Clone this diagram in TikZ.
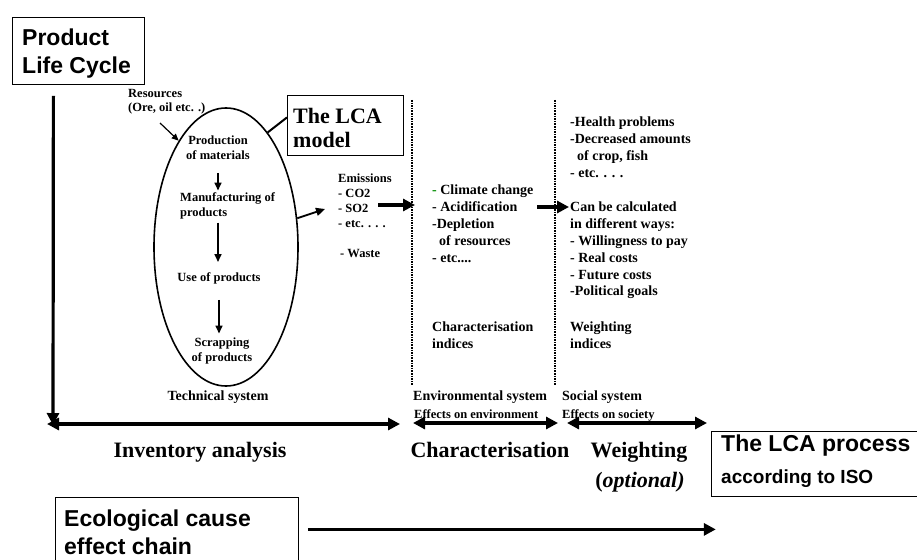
\documentclass[tikz,border=0pt]{standalone}
\usepackage{fontspec}
\setmainfont{Liberation Serif}
\newfontfamily\arialfont{Liberation Sans}
\usepackage{xcolor}
\usetikzlibrary{arrows.meta, shapes.geometric, positioning}

\begin{document}
\begin{tikzpicture}[x=1pt, y=-1pt,
    every node/.style={inner sep=0pt, font=\bfseries},
    framebox/.style={draw, line width=0.8pt, anchor=north west},
    arialbig/.style={font=\arialfont\bfseries\fontsize{23}{28}\selectfont, align=left, anchor=north west},
    small/.style={font=\bfseries\fontsize{12.5}{15.2}\selectfont, align=left},
    mid/.style={font=\bfseries\fontsize{14}{16.8}\selectfont, align=left},
    big/.style={font=\bfseries\fontsize{22}{28}\selectfont, anchor=base},
    thickarrow/.style={line width=3.2pt, -{Triangle[length=12pt, width=12pt]}},
    bothways/.style={line width=3.2pt, {Triangle[length=12pt, width=12pt]}-{Triangle[length=12pt, width=12pt]}},
    thinarrow/.style={line width=1.6pt, -{Triangle[length=8pt, width=7pt]}},
    dotline/.style={line width=2pt, dash pattern=on 1.6pt off 1pt}]

    \useasboundingbox (0,0) rectangle (917,559);

    % Titles
    \node[framebox, minimum width=132pt, minimum height=67pt] (plc) at (12,17) {};
    \node[arialbig] (plc-txt) at ([xshift=10pt, yshift=-12pt]plc.north west) {Product\\Life Cycle};
    \node[framebox, minimum width=116pt, minimum height=60pt] (model) at (287,95) {};
    \node[font=\bfseries\fontsize{22}{24.5}\selectfont, align=left, anchor=north west] (model-txt)
        at ([xshift=6pt, yshift=-13pt]model.north west) {The LCA\\model};
    \node[framebox, minimum width=214pt, minimum height=65pt] (iso) at (711,431) {};
    \node[arialbig] (iso-t1) at ([xshift=10pt, yshift=-4pt]iso.north west) {The LCA process};
    \node[font=\arialfont\bfseries\fontsize{19}{23}\selectfont, anchor=north west] (iso-t2)
        [below right=13pt and 0pt of iso-t1.south west] {according to ISO};
    \node[framebox, minimum width=243pt, minimum height=64pt] (eco) at (55,497) {};
    \node[arialbig] (eco-txt) at ([xshift=9pt, yshift=-13pt]eco.north west) {Ecological cause\\effect chain};

    % Technical system
    \node[draw, ellipse, line width=1.6pt, minimum width=144pt, minimum height=278pt] (ell) at (226,247) {};
    \node[small, anchor=north west, font=\bfseries\fontsize{12.5}{14}\selectfont] (res) at (128,89) {Resources\\(Ore, oil etc. .)};
    \node[small, align=center, anchor=north] (prod) at (218,135.5) {Production\\of materials};
    \node[small, anchor=north west] (manu) at (180,192.5) {Manufacturing of\\products};
    \node[small, anchor=north] (use) at (219,272) {Use of products};
    \node[small, align=center, anchor=north] (scrap) at (222,337.5) {Scrapping\\of products};
    \node[mid, anchor=north] (tech) at (218,391) {Technical system};

    \draw[thinarrow, shorten <=13pt, shorten >=2pt] (prod.south) -- (prod.south |- manu.north);
    \draw[thinarrow, shorten <=3pt, shorten >=10pt] (prod.south |- manu.south) -- (prod.south |- use.north);
    \draw[thinarrow, shorten <=16pt, shorten >=4pt] (use.south) -- (use.south |- scrap.north);
    \coordinate (res-out) at (160,123);
    \draw[line width=1.2pt, -{Triangle[length=7pt, width=6pt]}] (res-out) -- (ell.114);
    \draw[line width=2pt] ([yshift=8pt]model.west) -- (ell.70);

    % Emissions
    \node[small, anchor=north west, font=\bfseries\fontsize{12.5}{15}\selectfont] (emis) at (338,173.5)
        {Emissions\\- CO2\\- SO2\\- etc. . . .\\[15pt]\hspace*{2pt}- Waste};
    \coordinate (emis-in) at (325,209);
    \draw[line width=1.8pt, -{Triangle[length=9pt, width=8pt]}] (ell.22) -- (emis-in);

    % Environmental system
    \draw[dotline] (412,100) -- (412,385);
    \draw[dotline] (555,100) -- (555,385);
    \node[mid, anchor=north west] (cha) at (432,185)
        {\textcolor{green!55!black}{-} Climate change\\- Acidification\\-Depletion\\\hspace*{7pt}of resources\\- etc....};
    \node[mid, anchor=north west] (cha-idx) at (432,322) {Characterisation\\indices};
    \node[mid, anchor=north west] (envsys) at (413,391) {Environmental system};
    \node[small, anchor=north west] (envfx) [below right=5pt and 1pt of envsys.south west] {Effects on environment};
    \coordinate (so2) at (378,205);
    \draw[thickarrow, shorten >=17pt] (so2) -- (so2 -| cha.west);

    % Social system
    \node[mid, anchor=north west] (health) at (570,117)
        {-Health problems\\-Decreased amounts\\\hspace*{7pt}of crop, fish\\- etc. . . .};
    \node[mid, anchor=north west] (calc) at (570,202)
        {Can be calculated\\in different ways:\\- Willingness to pay\\- Real costs\\- Future costs\\-Political goals};
    \node[mid, anchor=north west] (wgt-idx) at (570,322) {Weighting\\indices};
    \node[mid, anchor=north west] (socsys) at (562,391) {Social system};
    \node[small, anchor=north west] (socfx) [below right=5pt and 0pt of socsys.south west] {Effects on society};
    \coordinate (acid) at (537,207);
    \draw[thickarrow, shorten >=1pt] (acid) -- (acid -| calc.west);

    % Phases
    \coordinate (inv-l) at (47,424);
    \coordinate (inv-r) at (400,424);
    \coordinate (cha-l) at (413,423);
    \coordinate (cha-r) at (558,423);
    \coordinate (wgt-l) at (567,423);
    \coordinate (wgt-r) at (707,423);
    \coordinate (plc-end) at (53,425);
    \draw[bothways] (inv-l) -- (inv-r);
    \draw[bothways] (cha-l) -- (cha-r);
    \draw[bothways] (wgt-l) -- (wgt-r);
    \draw[thickarrow] ([shift={(-25,11)}]plc.south) -- (plc-end);
    \node[big] (inv) at (200,457) {Inventory analysis};
    \node[big] (char) at (490,457) {Characterisation};
    \node[big] (wgt) at (639,457) {Weighting};
    \node[big] (opt) at (640,487) {(\textit{optional)}};

    % Chain
    \draw[thickarrow] ([xshift=9pt]eco.east) -- ([xshift=417pt]eco.east);
\end{tikzpicture}
\end{document}
